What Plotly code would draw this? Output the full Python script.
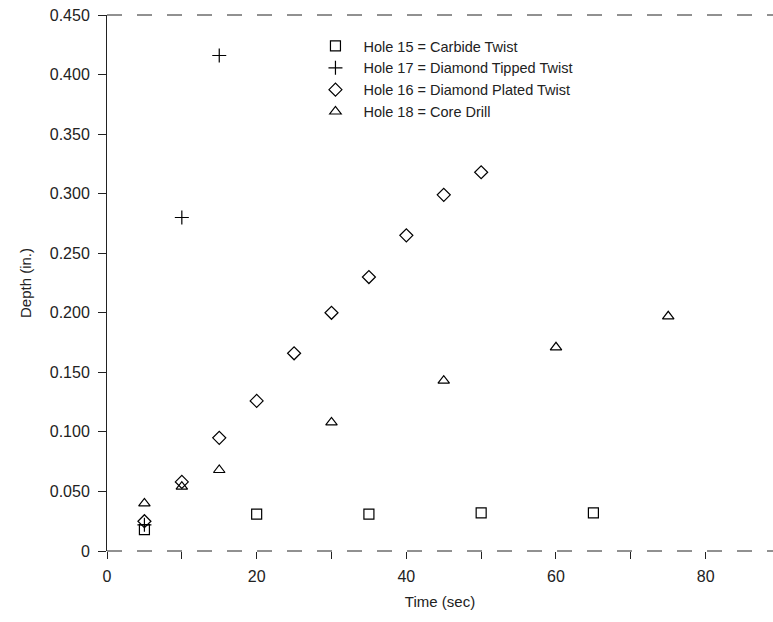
import plotly.graph_objects as go

h15_x = [5, 20, 35, 50, 65]
h15_y = [0.018, 0.031, 0.031, 0.032, 0.032]

h17_x = [5, 10, 15]
h17_y = [0.022, 0.280, 0.416]

h16_x = [5, 10, 15, 20, 25, 30, 35, 40, 45, 50]
h16_y = [0.025, 0.058, 0.095, 0.126, 0.166, 0.200, 0.230, 0.265, 0.299, 0.318]

h18_x = [5, 10, 15, 30, 45, 60, 75]
h18_y = [0.040, 0.054, 0.068, 0.108, 0.143, 0.171, 0.197]

x_ticks = [0, 20, 40, 60, 80]
y_ticks = [0, 0.05, 0.1, 0.15, 0.2, 0.25, 0.3, 0.35, 0.4, 0.45]
y_labels = ["0", "0.050", "0.100", "0.150", "0.200", "0.250", "0.300", "0.350", "0.400", "0.450"]

FONT = "Liberation Sans"
mk = dict(color="black", size=10, line=dict(color="black", width=1.2))
pad = "\u00a0\u00a0"

fig = go.Figure()
fig.add_trace(go.Scatter(x=h15_x, y=h15_y, mode="markers", name=pad + "Hole 15 = Carbide Twist",
                         marker=dict(symbol="square-open", **mk)))
fig.add_trace(go.Scatter(x=h17_x, y=h17_y, mode="markers", name=pad + "Hole 17 = Diamond Tipped Twist",
                         marker=dict(symbol="cross-thin-open", **mk)))
fig.add_trace(go.Scatter(x=h16_x, y=h16_y, mode="markers", name=pad + "Hole 16 = Diamond Plated Twist",
                         marker=dict(symbol="diamond-open", **mk)))
fig.add_trace(go.Scatter(x=h18_x, y=h18_y, mode="markers", name=pad + "Hole 18 = Core Drill",
                         marker=dict(symbol="triangle-up-open", **mk)))

fig.update_layout(
    width=773, height=622,
    margin=dict(l=107, r=0, t=15, b=71),
    paper_bgcolor="white", plot_bgcolor="white",
    font=dict(family=FONT, size=15, color="#222"),
    showlegend=True,
    legend=dict(x=0.313, y=0.972, xanchor="left", yanchor="top",
                bgcolor="rgba(0,0,0,0)", font=dict(size=14.5), tracegroupgap=0,
                itemwidth=30),
    xaxis=dict(range=[0, 89], tickvals=x_ticks, ticktext=[str(v) for v in x_ticks],
               ticks="outside", ticklen=7, tickcolor="#222", showgrid=False, zeroline=False,
               showline=False, tickfont=dict(size=16), ticklabelstandoff=4,
               minor=dict(dtick=10, tick0=0, ticks="outside", ticklen=7, tickcolor="#222", showgrid=False),
               title=dict(text="Time (sec)", standoff=12, font=dict(size=15))),
    yaxis=dict(range=[0, 0.45], tickvals=y_ticks, ticktext=y_labels,
               ticks="outside", ticklen=8, tickcolor="#222", showgrid=False, zeroline=False,
               showline=True, linecolor="#222", linewidth=1, tickfont=dict(size=16),
               ticklabelstandoff=5,
               title=dict(text="Depth (in.)", standoff=14, font=dict(size=15))),
)
fig.add_shape(type="line", xref="paper", yref="paper", x0=0, x1=1, y0=0, y1=0,
              line=dict(color="#222", width=1, dash="longdash"))
fig.add_shape(type="line", xref="paper", yref="paper", x0=0, x1=1, y0=1, y1=1,
              line=dict(color="#222", width=1, dash="longdash"))

fig.write_html("out.html")
